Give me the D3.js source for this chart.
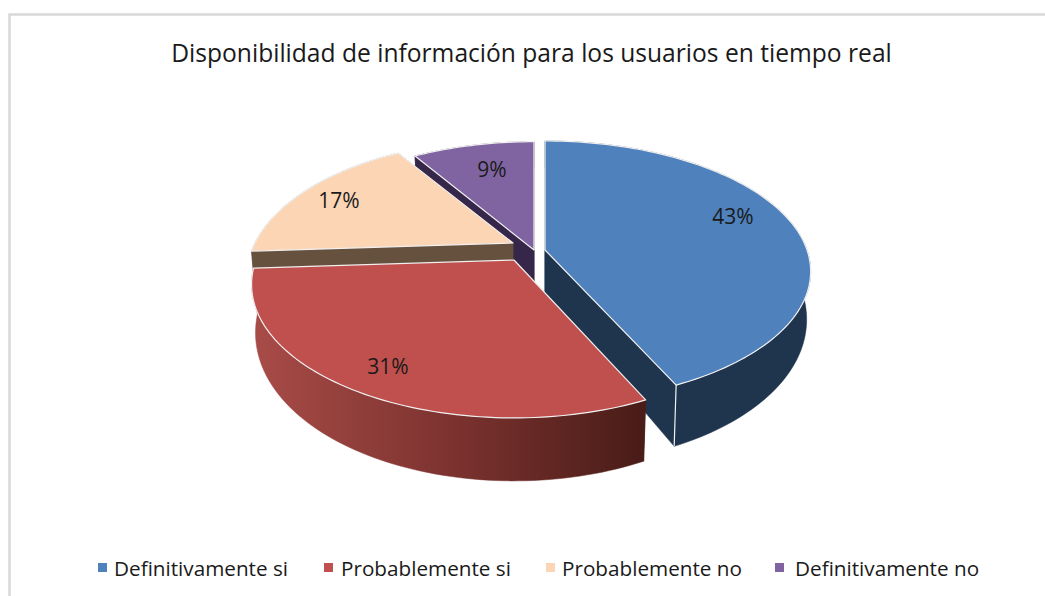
<!DOCTYPE html>
<html><head><meta charset="utf-8">
<script src="https://cdn.jsdelivr.net/npm/d3@7/dist/d3.min.js"></script>
<style>html,body{margin:0;padding:0;background:#fff}svg{display:block}text{font-family:"Open Sans",sans-serif;fill:#1a1a1a}</style>
</head><body><svg id="c" width="1045" height="596"></svg>
<script>
const titleText = "Disponibilidad de información para los usuarios en tiempo real";
const categories = ["Definitivamente si","Probablemente si","Probablemente no","Definitivamente no"];
const values = [43,31,17,9];
const labels = ["43%","31%","17%","9%"];
const topColors = ["#4f81bd","#c0504d","#fcd5b5","#8064a2"];
const wallColors = ["#1f344d","url(#redWall)","#66513f","#35264a"];
const centers = [[545,250],[514,260],[513,243],[534,250]];
const radii = [262,258,258,262];
const tiltA = [127,129,128,131.4];
const tiltK = [0.165,0.183,0.24,0.213];
const labelPos = [[733,218],[388,368],[339,202],[492,171]];
const legendX = [[98,114],[324,341],[546,562],[775,795]];
const drawOrder = [3,2,0,1];

const svg = d3.select("#c");
const defs = svg.append("defs");
const grad = defs.append("linearGradient").attr("id","redWall").attr("gradientUnits","userSpaceOnUse")
  .attr("x1",250).attr("x2",645).attr("y1",0).attr("y2",0);
grad.append("stop").attr("offset",0).attr("stop-color","#a94c48");
grad.append("stop").attr("offset",0.5).attr("stop-color","#7d3330");
grad.append("stop").attr("offset",1).attr("stop-color","#491c17");

svg.append("path").attr("d","M9.5,1000V14.5H1045").attr("fill","none").attr("stroke","#d9d9d9").attr("stroke-width",2.5);

// projection of the tilted disc
const SX=0.985, D0=45, D1=18;
const proj=(i,t,low)=>{
  const c=centers[i], u=Math.sin(t), v=Math.cos(t), w=1+tiltK[i]*v;
  const x=radii[i]*u/w, y=-tiltA[i]*v/w;
  return low ? [c[0]+x*SX, c[1]+y+D0-D1*v] : [c[0]+x, c[1]+y];
};
const arcPts=(i,a0,a1,low)=>{
  const n=Math.max(2,Math.ceil((a1-a0)*40));
  return d3.range(n+1).map(k=>proj(i,a0+(a1-a0)*k/n,low));
};
const line=d3.line().curve(d3.curveLinear);
const arcs=d3.pie().sort(null).value(d=>d)(values);
const g=svg.append("g");
const edge="#f0f0f0";
drawOrder.forEach(i=>{
  const a=arcs[i], c=centers[i], c2=[c[0],c[1]+D0];
  const start=a.startAngle, end=a.endAngle;
  const wall=wallColors[i];
  [start,end].forEach(t=>{
    g.append("path").attr("d",line([c,proj(i,t,false),proj(i,t,true),c2])+"Z")
      .attr("fill",wall).attr("stroke",wall).attr("stroke-width",0.5);
  });
  g.append("path").attr("d",line(arcPts(i,start,end,false).concat(arcPts(i,start,end,true).reverse()))+"Z")
    .attr("fill",wall).attr("stroke",wall).attr("stroke-width",0.5);
  if(i===0){g.append("path").attr("d",line([proj(i,end,false),proj(i,end,true)])).attr("stroke",edge).attr("stroke-width",1.2);}
  g.append("path").attr("d",line([c].concat(arcPts(i,start,end,false)))+"Z")
    .attr("fill",topColors[i]).attr("stroke",edge).attr("stroke-width",1.2).attr("stroke-linejoin","round");
});

svg.append("g").selectAll("text").data(labels).join("text")
  .attr("x",(d,i)=>labelPos[i][0]).attr("y",(d,i)=>labelPos[i][1])
  .attr("text-anchor","middle").attr("dominant-baseline","middle").attr("font-size",21).text(d=>d);

svg.append("text").attr("x",531.5).attr("y",62).attr("text-anchor","middle").attr("font-size",24.6).text(titleText);

const lg=svg.append("g").selectAll("g").data(categories).join("g");
lg.append("rect").attr("x",(d,i)=>legendX[i][0]).attr("y",563).attr("width",9).attr("height",9).attr("fill",(d,i)=>topColors[i]);
lg.append("text").attr("x",(d,i)=>legendX[i][1]).attr("y",576).attr("font-size",20.7).text(d=>d);
</script></body></html>
